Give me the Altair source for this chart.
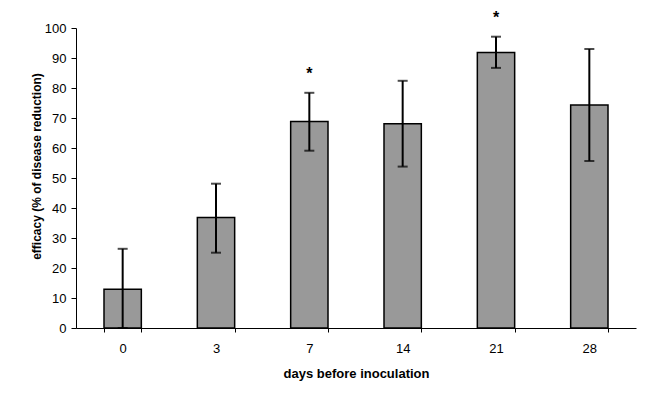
import altair as alt
import pandas as pd

days = ["0", "3", "7", "14", "21", "28"]
efficacy = [12.9, 36.8, 68.8, 68.1, 91.8, 74.3]
err_low = [0.0, 25.1, 59.1, 53.8, 86.7, 55.7]
err_high = [26.4, 48.1, 78.4, 82.4, 97.1, 93.0]
signif = ["", "", "*", "", "*", ""]
y_ticks = [0, 10, 20, 30, 40, 50, 60, 70, 80, 90, 100]

df = pd.DataFrame({"day": days, "eff": efficacy, "lo": err_low, "hi": err_high, "sig": signif})

FONT = "Liberation Sans"
YTITLE = "efficacy (% of disease reduction)"
XTITLE = "days before inoculation"

xaxis = alt.Axis(labelAngle=0, tickBand="extent", tickSize=4, labelPadding=10,
                 domainColor="black", tickColor="black", labelColor="black",
                 labelFont=FONT, labelFontSize=13, titleFont=FONT, titleFontSize=13,
                 titleFontWeight="bold", titleColor="black", titlePadding=12, grid=False)
yaxis = alt.Axis(values=y_ticks, labelOverlap=False, tickSize=5, labelPadding=5,
                 domainColor="black", tickColor="black", labelColor="black",
                 labelFont=FONT, labelFontSize=13, titleFont=FONT, titleFontSize=12,
                 titleFontWeight="bold", titleColor="black",
                 titleX=-40, titleY=138, titleAngle=270, titleAlign="center",
                 titleBaseline="middle", grid=False)
xscale = alt.Scale(paddingInner=0.6, paddingOuter=0.3)
yscale = alt.Scale(domain=[0, 100], nice=False)

def X():
    return alt.X("day:N", sort=days, title=XTITLE, scale=xscale, axis=xaxis)

def Y(field):
    return alt.Y(field, type="quantitative", title=YTITLE, scale=yscale, axis=yaxis)

bars = alt.Chart(df).mark_bar(color="#999999", stroke="black", strokeWidth=1.5).encode(
    x=X(), y=Y("eff"))
rules = alt.Chart(df).mark_rule(color="black", strokeWidth=2).encode(
    x=X(), y=Y("lo"), y2="hi:Q")
cap_hi = alt.Chart(df).mark_tick(color="black", thickness=2, size=10, orient="horizontal").encode(
    x=X(), y=Y("hi"))
cap_lo = alt.Chart(df).mark_tick(color="black", thickness=2, size=10, orient="horizontal").encode(
    x=X(), y=Y("lo"))
stars = alt.Chart(df).mark_text(font=FONT, fontSize=16, fontWeight="bold", color="black",
                                baseline="middle", dy=-19).encode(
    x=X(), y=Y("hi"), text="sig:N")

chart = alt.layer(bars, rules, cap_hi, cap_lo, stars).properties(
    width=560, height=300,
    autosize=alt.AutoSizeParams(type="none"),
    padding={"left": 68, "top": 20, "right": 7, "bottom": 60},
).configure(background="white", view=alt.ViewConfig(stroke=None))

chart.save("out.html", embed_options={"renderer": "svg", "actions": False})
